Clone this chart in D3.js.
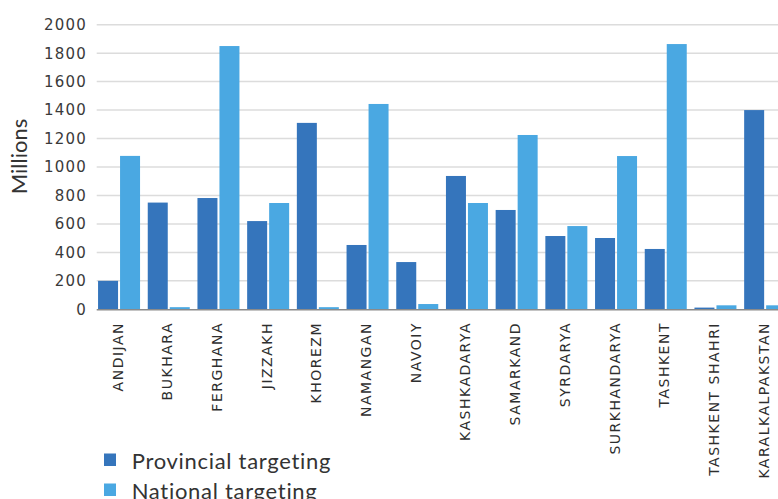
<!DOCTYPE html>
<html><head><meta charset="utf-8">
<script src="https://cdn.jsdelivr.net/npm/d3@7"></script>
<style>html,body{margin:0;padding:0;background:#fff;overflow:hidden}</style>
</head><body>
<script>
const categories = ["ANDIJAN","BUKHARA","FERGHANA","JIZZAKH","KHOREZM","NAMANGAN","NAVOIY","KASHKADARYA","SAMARKAND","SYRDARYA","SURKHANDARYA","TASHKENT","TASHKENT SHAHRI","KARALKALPAKSTAN"];
const seriesNames = ["Provincial targeting","National targeting"];
const provincial = [200, 750, 782, 620, 1310, 452, 332, 937, 698, 515, 501, 424, 12, 1400];
const national = [1078, 15, 1850, 747, 15, 1443, 37, 747, 1225, 585, 1077, 1864, 28, 28];
const yTicks = [0,200,400,600,800,1000,1200,1400,1600,1800,2000];
const colors = ["#3575BC","#4AA8E2"];

const W = 778, H = 499;
const svg = d3.select("body").append("svg").attr("width", W).attr("height", H);

const x = d3.scaleBand().domain(categories).range([94.2, 790]).paddingInner(0.155).paddingOuter(0.0775);
const xs = d3.scaleBand().domain(seriesNames).range([0, x.bandwidth()]).paddingInner(0.0909);
const y = d3.scaleLinear().domain([0, 2000]).range([309.3, 24.7]);

// gridlines
svg.append("g").selectAll("line").data(yTicks.filter(d => d > 0)).join("line")
  .attr("x1", 96.7).attr("x2", 800)
  .attr("y1", d => y(d)).attr("y2", d => y(d))
  .attr("stroke", "#dcdcdc").attr("stroke-width", 1.5);

// y tick labels
svg.append("g").selectAll("text").data(yTicks).join("text")
  .attr("x", 87).attr("y", d => y(d)).attr("dy", "0.36em")
  .attr("text-anchor", "end")
  .style("font-family", "DejaVu Sans").style("font-size", "15px")
  .style("letter-spacing", "1.2px").attr("fill", "#3a3a3a")
  .text(d => d);

// y title
svg.append("text").attr("transform", "translate(27,156.5) rotate(-90)")
  .attr("text-anchor", "middle")
  .style("font-family", "Lato").style("font-size", "22px").attr("fill", "#333")
  .text("Millions");

// bars
const rows = categories.map((c, i) => ({c, vals: [provincial[i], national[i]]}));
const g = svg.append("g").selectAll("g").data(rows).join("g")
  .attr("transform", d => `translate(${x(d.c)},0)`);
g.selectAll("rect").data(d => d.vals.map((v, k) => ({k, v}))).join("rect")
  .attr("x", d => xs(seriesNames[d.k]))
  .attr("width", xs.bandwidth())
  .attr("y", d => y(d.v))
  .attr("height", d => y(0) - y(d.v))
  .attr("fill", d => colors[d.k]);

// axis line
svg.append("line").attr("x1", 96.7).attr("x2", 800).attr("y1", 309.8).attr("y2", 309.8)
  .attr("stroke", "#8a8a8a").attr("stroke-width", 1.6);

// x labels
svg.append("g").selectAll("text").data(categories).join("text")
  .attr("transform", d => `translate(${x(d) + x.bandwidth()/2 - 1.5},322) rotate(-90)`)
  .attr("dy", "0.36em").attr("text-anchor", "end")
  .style("font-family", "DejaVu Sans").style("font-size", "14px")
  .style("letter-spacing", "1.5px").attr("fill", "#2e2e2e")
  .text(d => d);

// legend
const lg = svg.append("g").selectAll("g").data(seriesNames).join("g")
  .attr("transform", (d, i) => `translate(104,${453.5 + i * 30})`);
lg.append("rect").attr("width", 12).attr("height", 12.5).attr("fill", (d, i) => colors[i]);
lg.append("text").attr("x", 27.7).attr("y", 15.8)
  .style("font-family", "Lato").style("font-size", "22px").attr("fill", "#333")
  .style("letter-spacing", "0.7px")
  .text(d => d);
</script>
</body></html>
